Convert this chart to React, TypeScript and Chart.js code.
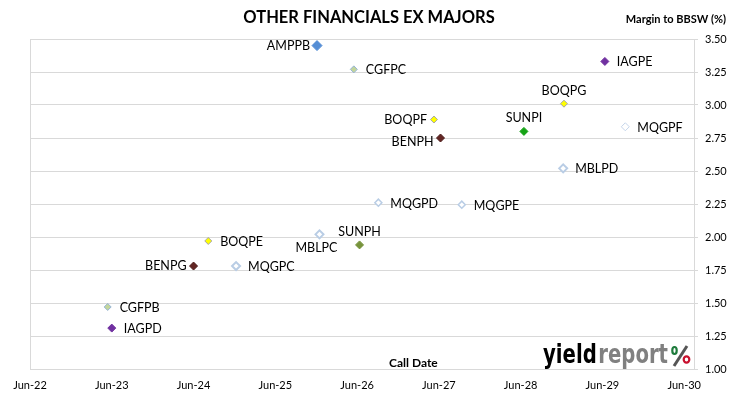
import React, { useEffect, useRef } from "react";
import { Chart, registerables } from "chart.js";

Chart.register(...registerables);

// ---- data ----
const bondNames = [
  "AMPPB", "CGFPC", "IAGPE", "BOQPG", "MQGPF", "BOQPF", "SUNPI", "BENPH", "MBLPD",
  "MQGPD", "MQGPE", "MBLPC", "SUNPH", "BOQPE", "BENPG", "MQGPC", "CGFPB", "IAGPD",
];
// call date as decimal year (Jun-YY = YYYY.5)
const callYears = [
  2026.01, 2026.46, 2029.53, 2029.03, 2029.78, 2027.44, 2028.54, 2027.52, 2029.02,
  2026.76, 2027.78, 2026.04, 2026.53, 2024.68, 2024.5, 2025.02, 2023.45, 2023.5,
];
const margins = [
  3.45, 3.27, 3.33, 3.01, 2.835, 2.89, 2.8, 2.75, 2.52,
  2.26, 2.245, 2.02, 1.94, 1.97, 1.78, 1.78, 1.47, 1.31,
];
const tickYears = [2022.5, 2023.5, 2024.5, 2025.5, 2026.5, 2027.5, 2028.5, 2029.5, 2030.5];
const tickLabels = ["Jun-22", "Jun-23", "Jun-24", "Jun-25", "Jun-26", "Jun-27", "Jun-28", "Jun-29", "Jun-30"];

// ---- styles ----
const labelSide = [
  "left", "right", "right", "above", "right", "left", "above", "left", "right",
  "right", "right", "below", "above", "right", "left", "right", "right", "right",
];
const fillColors = [
  "#558ed5", "#c3d69b", "#7030a0", "#ffff00", "#ffffff", "#ffff00", "#16a316", "#632523", "#ffffff",
  "#ffffff", "#ffffff", "#ffffff", "#77933c", "#ffff00", "#632523", "#ffffff", "#c3d69b", "#7030a0",
];
const edgeColors = [
  "#558ed5", "#95b3d7", "#7030a0", "#a6a6a6", "#c5d5ea", "#a6a6a6", "#16a316", "#4a1a18", "#b9cde5",
  "#b9cde5", "#b9cde5", "#b9cde5", "#77933c", "#a6a6a6", "#4a1a18", "#b9cde5", "#95b3d7", "#7030a0",
];
const edgeWidths = [1, 1, 1, 1, 1, 1, 1, 1, 2, 1.5, 1.5, 2, 1, 1, 1, 2, 1, 1];
const radii = [5, 3.5, 4, 3.5, 4, 3.5, 4, 4, 4, 3.5, 3.5, 4, 4, 3.5, 4, 4, 3.5, 4];

const FONT = "Lato, 'Open Sans', sans-serif";

const decorPlugin = {
  id: "decor",
  afterDatasetsDraw(chart: any) {
    const ctx = chart.ctx;
    const meta = chart.getDatasetMeta(0);
    ctx.save();
    ctx.fillStyle = "#000";
    ctx.font = `12.5px ${FONT}`;
    meta.data.forEach((pt: any, i: number) => {
      const side = labelSide[i];
      let x = pt.x;
      let y = pt.y;
      if (side === "right") {
        ctx.textAlign = "left";
        x += 12;
        y += 1;
      } else if (side === "left") {
        ctx.textAlign = "right";
        x -= 7;
        if (bondNames[i] === "BENPH") y += 4;
      } else if (side === "above") {
        ctx.textAlign = "center";
        y -= 13;
      } else {
        ctx.textAlign = "center";
        x -= 3;
        y += 14;
      }
      ctx.textBaseline = "middle";
      ctx.fillText(bondNames[i], x, y);
    });
    ctx.restore();
  },
  afterDraw(chart: any) {
    const ctx = chart.ctx;
    ctx.save();
    // title
    ctx.fillStyle = "#000";
    ctx.textBaseline = "middle";
    ctx.textAlign = "center";
    ctx.font = `bold 16.5px ${FONT}`;
    ctx.fillText("OTHER FINANCIALS EX MAJORS", 369, 18);
    // axis title
    ctx.textAlign = "right";
    ctx.font = `bold 11px ${FONT}`;
    ctx.fillText("Margin to BBSW (%)", 726, 19);
    // x axis title
    ctx.textAlign = "left";
    ctx.font = `bold 12px ${FONT}`;
    ctx.fillText("Call Date", 389, 363);

    // logo
    ctx.textBaseline = "alphabetic";
    ctx.font = `bold 26px 'DejaVu Sans', ${FONT}`;
    const w1 = ctx.measureText("yield").width;
    const w2 = ctx.measureText("report").width;
    const targetW = 125;
    const sx = targetW / (w1 + w2 + 2);
    ctx.save();
    ctx.translate(543, 363);
    ctx.scale(sx, 1);
    ctx.fillStyle = "#000";
    ctx.fillText("yield", 0, 0);
    ctx.fillStyle = "#808080";
    ctx.fillText("report", w1 + 2, 0);
    ctx.restore();
    // percent sign
    ctx.strokeStyle = "#555";
    ctx.lineWidth = 3;
    ctx.beginPath();
    ctx.moveTo(687, 346);
    ctx.lineTo(674, 366);
    ctx.stroke();
    ctx.lineWidth = 2.2;
    ctx.strokeStyle = "#1e7b3c";
    ctx.beginPath();
    ctx.ellipse(674.5, 350.5, 2.2, 3.5, 0, 0, Math.PI * 2);
    ctx.stroke();
    ctx.strokeStyle = "#c8102e";
    ctx.beginPath();
    ctx.ellipse(686.5, 359.5, 2.8, 3.2, 0, 0, Math.PI * 2);
    ctx.stroke();
    ctx.restore();
  },
};

export default function App() {
  const ref = useRef<HTMLCanvasElement | null>(null);
  useEffect(() => {
    if (!ref.current) return;
    const chart = new Chart(ref.current, {
      type: "scatter",
      data: {
        datasets: [
          {
            data: callYears.map((x, i) => ({ x, y: margins[i] })),
            pointStyle: "rectRot",
            pointRadius: radii,
            pointHoverRadius: radii,
            backgroundColor: fillColors,
            borderColor: edgeColors,
            borderWidth: edgeWidths,
          },
        ],
      },
      options: {
        animation: false,
        responsive: false,
        maintainAspectRatio: false,
        layout: { padding: { left: 30, top: 39, right: 0, bottom: 0 } },
        plugins: {
          legend: { display: false },
          tooltip: { enabled: false },
        },
        scales: {
          x: {
            type: "linear",
            min: 2022.5,
            max: 2030.62,
            afterBuildTicks: (s: any) => {
              s.ticks = tickYears.map((v) => ({ value: v }));
            },
            afterFit: (s: any) => {
              s.height = 30;
            },
            ticks: {
              autoSkip: false,
              maxRotation: 0,
              padding: 10,
              color: "#000",
              font: { family: FONT, size: 11 },
              callback: (_v: any, i: number) => tickLabels[i],
            },
            grid: {
              drawTicks: false,
              color: (c: any) => (c.index === 0 ? "#d9d9d9" : "rgba(0,0,0,0)"),
            },
            border: { display: true, color: "#d9d9d9" },
          },
          y: {
            position: "right",
            min: 1,
            max: 3.5,
            afterFit: (s: any) => {
              s.width = 36;
            },
            ticks: {
              stepSize: 0.25,
              padding: 7,
              color: "#000",
              font: { family: FONT, size: 11 },
              callback: (v: any) => Number(v).toFixed(2),
            },
            grid: { color: "#d9d9d9", tickLength: 4 },
            border: { display: true, color: "#d9d9d9" },
          },
        },
      },
      plugins: [decorPlugin],
    } as any);
    return () => chart.destroy();
  }, []);
  return (
    <div style={{ position: "fixed", left: 0, top: 0, width: 730, height: 399, background: "#fff" }}>
      <canvas ref={ref} width={730} height={399} style={{ display: "block" }} />
    </div>
  );
}
